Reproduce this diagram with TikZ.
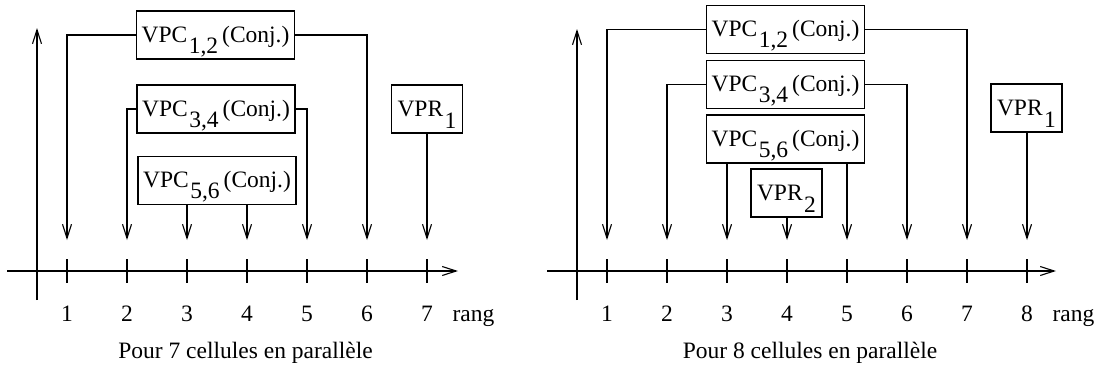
\documentclass[tikz,border=0pt]{standalone}
\usepackage{fontspec}
\setmainfont{Liberation Serif}
\usetikzlibrary{arrows.meta}
\newcommand{\vpctxt}[1]{VPC\hspace{1.5pt}\raisebox{-11pt}{#1}\hspace{4pt}(Conj.)}
\newcommand{\vprtxt}[1]{VPR\hspace{1.5pt}\raisebox{-12pt}{#1}}
\begin{document}
\begin{tikzpicture}[x=1pt,y=-1pt,line width=1.1pt,
  arr/.style={-{Straight Barb[length=14pt,width=9pt,line width=1.1pt]}},
  vbox/.style={draw,line width=1.1pt,minimum height=48pt,inner sep=0pt,
    text height=17pt,text depth=3pt,font=\fontsize{23.5}{25}\selectfont},
  vpc/.style={vbox,minimum width=158pt},
  vpr/.style={vbox,minimum width=71pt},
  lbl/.style={inner sep=0pt,font=\fontsize{23.5}{25}\selectfont}]
\useasboundingbox (0,0) rectangle (1106,370);

% ---------- left panel ----------
\coordinate (LxS) at (7,271); \coordinate (LxE) at (458,271);
\coordinate (LyS) at (37,300); \coordinate (LyE) at (37,28);
\draw[arr] (LxS) -- (LxE);
\draw[arr] (LyS) -- (LyE);
\foreach \k in {1,...,7}{
  \coordinate (La\k) at ({7+60*\k},271);
  \coordinate (Lt\k) at ({7+60*\k},240);
  \draw (La\k) ++(0,-12) -- ++(0,24);
  \node[lbl,anchor=base] (Ln\k) at ({7+60*\k},321) {\k};
}
\node[lbl,anchor=base west] (Lrang) at (452,321) {rang};
\node[lbl,anchor=base] (Lcap) at (245.5,358) {Pour 7 cellules en parallèle};

\node[vpc] (L12) at (215.5,35) {\vpctxt{1,2}};
\node[vpc] (L34) at (216,109) {\vpctxt{3,4}};
\node[vpc] (L56) at (217,180.5) {\vpctxt{5,6}};
\node[vpr] (LR1) at (427,109) {\vprtxt{1}};

\draw[arr] (L12.west) -| (Lt1);
\draw[arr] (L12.east) -| (Lt6);
\draw[arr] (L34.west) -| (Lt2);
\draw[arr] (L34.east) -| (Lt5);
\draw[arr] (L56.south -| Lt3) -- (Lt3);
\draw[arr] (L56.south -| Lt4) -- (Lt4);
\draw[arr] (LR1.south -| Lt7) -- (Lt7);

% ---------- right panel ----------
\coordinate (RxS) at (547,271); \coordinate (RxE) at (1056,271);
\coordinate (RyS) at (577,300); \coordinate (RyE) at (577,29);
\draw[arr] (RxS) -- (RxE);
\draw[arr] (RyS) -- (RyE);
\foreach \k in {1,...,8}{
  \coordinate (Ra\k) at ({547+60*\k},271);
  \coordinate (Rt\k) at ({547+60*\k},240);
  \draw (Ra\k) ++(0,-12) -- ++(0,24);
  \node[lbl,anchor=base] (Rn\k) at ({547+60*\k},321) {\k};
}
\node[lbl,anchor=base west] (Rrang) at (1052,321) {rang};
\node[lbl,anchor=base] (Rcap) at (810,358) {Pour 8 cellules en parallèle};

\node[vpc] (R12) at (785.5,29.5) {\vpctxt{1,2}};
\node[vpc] (R34) at (785.5,84.5) {\vpctxt{3,4}};
\node[vpc] (R56) at (785.5,139) {\vpctxt{5,6}};
\node[vpr] (RR2) at (786.5,193) {\vprtxt{2}};
\node[vpr] (RR1) at (1026.5,108) {\vprtxt{1}};

\draw[arr] (R12.west) -| (Rt1);
\draw[arr] (R12.east) -| (Rt7);
\draw[arr] (R34.west) -| (Rt2);
\draw[arr] (R34.east) -| (Rt6);
\draw[arr] (R56.south -| Rt3) -- (Rt3);
\draw[arr] (R56.south -| Rt5) -- (Rt5);
\draw[arr] (RR2.south -| Rt4) -- (Rt4);
\draw[arr] (RR1.south -| Rt8) -- (Rt8);
\end{tikzpicture}
\end{document}
